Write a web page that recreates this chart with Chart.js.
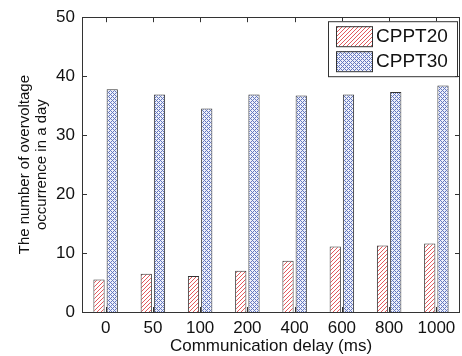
<!DOCTYPE html>
<html>
<head>
<meta charset="utf-8">
<script src="https://cdn.jsdelivr.net/npm/chart.js@4"></script>
<style>
  html, body { margin: 0; padding: 0; background: #fff; }
  #wrap { width: 462px; height: 356px; }
</style>
</head>
<body>
<div id="wrap"><canvas id="delayChart" width="462" height="356"></canvas></div>
<script>
// data
const delays = ['0', '50', '100', '200', '400', '600', '800', '1000'];
const cppt20 = [5.5, 6.5, 6.1, 7.0, 8.7, 11.1, 11.3, 11.6];
const cppt30 = [37.8, 36.9, 34.5, 36.9, 36.7, 36.9, 37.3, 38.4];
const yTicks = [0, 10, 20, 30, 40, 50];

// pixel hatch tiles: '/' lines for CPPT20, cross-hatch for CPPT30
function hatch(kind) {
    const s = 4;
    const c = document.createElement('canvas');
    c.width = s; c.height = s;
    const g = c.getContext('2d');
    g.fillStyle = kind === 'diag' ? '#ffffff' : '#eef0fa';
    g.fillRect(0, 0, s, s);
    for (let y = 0; y < s; y++) {
        for (let x = 0; x < s; x++) {
            if (kind === 'diag') {
                if ((x + y) % s === 0) {
                    g.fillStyle = '#e25a5e';
                    g.fillRect(x, y, 1, 1);
                }
            } else {
                if ((x + y) % s === 0 || ((x - y + s) % s === 0)) {
                    g.fillStyle = '#6478c0';
                    g.fillRect(x, y, 1, 1);
                }
            }
        }
    }
    return g.createPattern(c, 'repeat');
}

const font = 'Liberation Sans, Arial, sans-serif';

// frame with inward ticks, matlab style
const framePlugin = {
    id: 'frame',
    afterDraw(chart) {
        const ctx = chart.ctx;
        const a = chart.chartArea;
        const xs = chart.scales.x, ys = chart.scales.y;
        ctx.save();
        ctx.strokeStyle = '#333';
        ctx.lineWidth = 1;
        ctx.strokeRect(Math.round(a.left) + 0.5, Math.round(a.top) + 0.5,
            Math.round(a.right - a.left) - 1, Math.round(a.bottom - a.top));
        ctx.beginPath();
        xs.ticks.forEach((t, i) => {
            const x = Math.round(xs.getPixelForTick(i)) + 0.5;
            ctx.moveTo(x, a.bottom); ctx.lineTo(x, a.bottom - 5);
            ctx.moveTo(x, a.top); ctx.lineTo(x, a.top + 5);
        });
        ys.ticks.forEach((t, i) => {
            const y = Math.round(ys.getPixelForTick(i)) + 0.5;
            ctx.moveTo(a.left, y); ctx.lineTo(a.left + 5, y);
            ctx.moveTo(a.right, y); ctx.lineTo(a.right - 5, y);
        });
        ctx.stroke();
        ctx.restore();
    }
};

// boxed legend in the top right corner of the plot
const boxLegend = {
    id: 'boxLegend',
    afterDraw(chart) {
        const ctx = chart.ctx;
        const a = chart.chartArea;
        const w = 129, h = 55;
        const x0 = a.right - 3 - w, y0 = a.top + 4;
        ctx.save();
        ctx.fillStyle = '#fff';
        ctx.fillRect(x0, y0, w, h);
        ctx.strokeStyle = '#333';
        ctx.lineWidth = 1;
        ctx.strokeRect(x0 + 0.5, y0 + 0.5, w, h);
        ctx.font = '19px ' + font;
        ctx.textBaseline = 'middle';
        chart.data.datasets.forEach((ds, i) => {
            const sy = y0 + 5 + i * 25;
            ctx.fillStyle = ds.backgroundColor;
            ctx.fillRect(x0 + 8, sy, 36, 20);
            ctx.strokeStyle = '#333';
            ctx.strokeRect(x0 + 8.5, sy + 0.5, 36, 20);
            ctx.fillStyle = '#111';
            ctx.fillText(ds.label, x0 + 48, sy + 11);
        });
        ctx.restore();
    }
};

new Chart(document.getElementById('delayChart').getContext('2d'), {
    type: 'bar',
    data: {
        labels: delays,
        datasets: [{
            label: 'CPPT20',
            data: cppt20,
            backgroundColor: hatch('diag'),
            borderColor: '#333',
            borderWidth: 1,
            categoryPercentage: 0.56,
            barPercentage: 0.85
        }, {
            label: 'CPPT30',
            data: cppt30,
            backgroundColor: hatch('cross'),
            borderColor: '#333',
            borderWidth: 1,
            categoryPercentage: 0.56,
            barPercentage: 0.85
        }]
    },
    options: {
        responsive: false,
        animation: false,
        layout: { padding: { top: 14, right: 2, left: 0, bottom: 0 } },
        plugins: { legend: { display: false }, tooltip: { enabled: false } },
        scales: {
            x: {
                grid: { display: false, drawTicks: false },
                border: { display: false },
                ticks: { color: '#111', padding: 6, font: { family: font, size: 17 } },
                title: {
                    display: true, text: 'Communication delay (ms)', color: '#111',
                    padding: { top: 0, bottom: -1 }, font: { family: font, size: 17 }
                },
                afterFit(s) { s.height = 44; }
            },
            y: {
                min: 0, max: 50,
                afterBuildTicks(s) { s.ticks = yTicks.map(v => ({ value: v })); },
                grid: { display: false, drawTicks: false },
                border: { display: false },
                ticks: { color: '#111', padding: 7, font: { family: font, size: 17 } },
                title: {
                    display: true,
                    text: ['The number of overvoltage', 'occurrence in a day'],
                    color: '#111',
                    padding: { top: 17, bottom: 0 },
                    font: { family: font, size: 15, lineHeight: 1.1 }
                },
                afterFit(s) { s.width = 82; }
            }
        }
    },
    plugins: [framePlugin, boxLegend]
});
</script>
</body>
</html>
